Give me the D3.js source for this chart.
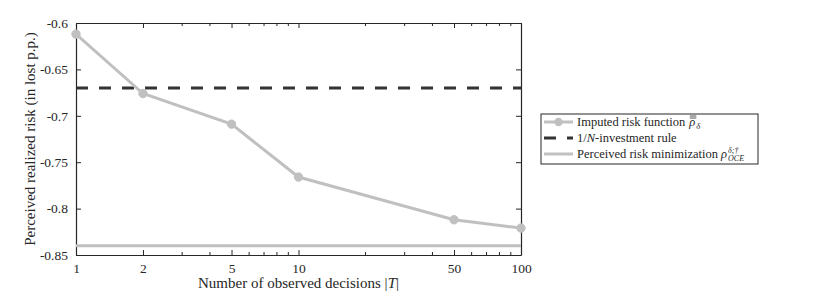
<!DOCTYPE html>
<html>
<head>
<meta charset="utf-8">
<script src="https://cdn.jsdelivr.net/npm/d3@7"></script>
<style>
  body { margin: 0; background: #fff; }
  text { font-family: "Liberation Serif", "DejaVu Serif", serif; fill: #262626; }
</style>
</head>
<body>
<script>
// data
const decisions = [1, 2, 5, 10, 50, 100];
const imputedRisk = [-0.612, -0.676, -0.709, -0.766, -0.812, -0.821];
const equalWeight = -0.670;      // 1/N-investment rule
const perceivedMin = -0.840;     // perceived risk minimization
const xTickValues = [1, 2, 5, 10, 50, 100];
const xMinorTicks = [3, 4, 6, 7, 8, 9, 20, 30, 40, 60, 70, 80, 90];
const yTickValues = [-0.85, -0.8, -0.75, -0.7, -0.65, -0.6];

const width = 830, height = 294;
const margin = { top: 23, right: 309, bottom: 39, left: 76 };
const w = width - margin.left - margin.right;
const h = height - margin.top - margin.bottom;

const gray = "#c0c0c0", dark = "#333333", axisCol = "#262626";

const svg = d3.select("body").append("svg")
    .attr("width", width)
    .attr("height", height);

const g = svg.append("g")
    .attr("transform", `translate(${margin.left},${margin.top})`);

const x = d3.scaleLog().domain([1, 100]).range([0, w]);
const y = d3.scaleLinear().domain([-0.85, -0.6]).range([h, 0]);

const fmtY = d => String(d).replace("−", "-");

// axes, ticks pointing inward like matlab
const xBottom = d3.axisBottom(x).tickValues(xTickValues).tickFormat(d3.format("d"))
    .tickSizeInner(-5).tickSizeOuter(0).tickPadding(8);
const xTop = d3.axisTop(x).tickValues(xTickValues).tickFormat("")
    .tickSizeInner(-5).tickSizeOuter(0);
const yLeft = d3.axisLeft(y).tickValues(yTickValues).tickFormat(fmtY)
    .tickSizeInner(-5).tickSizeOuter(0).tickPadding(8);
const yRight = d3.axisRight(y).tickValues(yTickValues).tickFormat("")
    .tickSizeInner(-5).tickSizeOuter(0);

const gxb = g.append("g").attr("transform", `translate(0,${h})`).call(xBottom);
const gxt = g.append("g").call(xTop);
const gyl = g.append("g").call(yLeft);
const gyr = g.append("g").attr("transform", `translate(${w},0)`).call(yRight);

[gxb, gxt, gyl, gyr].forEach(a => {
    a.select(".domain").attr("stroke", axisCol).attr("stroke-width", 1.2);
    a.selectAll(".tick line").attr("stroke", axisCol);
    a.selectAll(".tick text").style("font-size", "13.5px")
        .style("font-family", "'Liberation Serif', serif").attr("fill", axisCol);
});

// minor log ticks, bottom and top
g.append("g").selectAll("line.minb").data(xMinorTicks).enter().append("line")
    .attr("x1", d => x(d)).attr("x2", d => x(d))
    .attr("y1", h).attr("y2", h - 3)
    .attr("stroke", axisCol);
g.append("g").selectAll("line.mint").data(xMinorTicks).enter().append("line")
    .attr("x1", d => x(d)).attr("x2", d => x(d))
    .attr("y1", 0).attr("y2", 3)
    .attr("stroke", axisCol);

// horizontal reference lines
g.append("line")
    .attr("x1", 0).attr("x2", w)
    .attr("y1", y(perceivedMin)).attr("y2", y(perceivedMin))
    .attr("stroke", gray).attr("stroke-width", 3);

g.append("line")
    .attr("x1", 0).attr("x2", w)
    .attr("y1", y(equalWeight)).attr("y2", y(equalWeight))
    .attr("stroke", dark).attr("stroke-width", 3)
    .attr("stroke-dasharray", "12,11");

// imputed risk line + markers
const pts = decisions.map((d, i) => [d, imputedRisk[i]]);
g.append("path")
    .datum(pts)
    .attr("fill", "none")
    .attr("stroke", gray)
    .attr("stroke-width", 3)
    .attr("d", d3.line().x(d => x(d[0])).y(d => y(d[1])));

g.selectAll("circle.pt").data(pts).enter().append("circle")
    .attr("class", "pt")
    .attr("cx", d => x(d[0]))
    .attr("cy", d => y(d[1]))
    .attr("r", 4.2)
    .attr("fill", gray)
    .attr("stroke", gray);

// axis titles
svg.append("text")
    .attr("x", margin.left + w / 2)
    .attr("y", 288)
    .attr("text-anchor", "middle")
    .style("font-size", "15px")
    .html('Number of observed decisions |<tspan font-style="italic">T</tspan>|');

svg.append("text")
    .attr("transform", `translate(35,${margin.top + h / 2}) rotate(-90)`)
    .attr("text-anchor", "middle")
    .style("font-size", "15px")
    .text("Perceived realized risk (in lost p.p.)");

// legend
const lg = svg.append("g").attr("transform", "translate(541,114)");
lg.append("rect")
    .attr("width", 217).attr("height", 50)
    .attr("fill", "#fff").attr("stroke", axisCol).attr("stroke-width", 1);

const rowY = [8, 24, 40];
// row 1
lg.append("line").attr("x1", 3).attr("x2", 32).attr("y1", rowY[0]).attr("y2", rowY[0])
    .attr("stroke", gray).attr("stroke-width", 3);
lg.append("circle").attr("cx", 17.5).attr("cy", rowY[0]).attr("r", 4.2).attr("fill", gray);
// row 2
lg.append("line").attr("x1", 3).attr("x2", 32).attr("y1", rowY[1]).attr("y2", rowY[1])
    .attr("stroke", dark).attr("stroke-width", 3).attr("stroke-dasharray", "12,11");
// row 3
lg.append("line").attr("x1", 3).attr("x2", 32).attr("y1", rowY[2]).attr("y2", rowY[2])
    .attr("stroke", gray).attr("stroke-width", 3);

const lfs = "12.5px";
const t1 = lg.append("text").attr("x", 36).attr("y", rowY[0] + 4).style("font-size", lfs)
    .text("Imputed risk function");
const x1 = 36 + t1.node().getComputedTextLength() + 4;
lg.append("text").attr("x", x1).attr("y", rowY[0] + 4).style("font-size", lfs)
    .style("font-style", "italic").text("ρ");
// double overbar on rho
[-5, -3].forEach(dy => lg.append("line")
    .attr("x1", x1 + 0.5).attr("x2", x1 + 7)
    .attr("y1", rowY[0] + dy - 1).attr("y2", rowY[0] + dy - 1)
    .attr("stroke", axisCol).attr("stroke-width", 0.8));
lg.append("text").attr("x", x1 + 7).attr("y", rowY[0] + 7).style("font-size", "8.5px")
    .style("font-style", "italic").text("δ");

lg.append("text").attr("x", 36).attr("y", rowY[1] + 4).style("font-size", lfs)
    .html('1/<tspan font-style="italic">N</tspan>-investment rule');

const t3 = lg.append("text").attr("x", 36).attr("y", rowY[2] + 4).style("font-size", lfs)
    .html('Perceived risk minimization <tspan font-style="italic">ρ</tspan>');
const x3 = 36 + t3.node().getComputedTextLength() + 1;
lg.append("text").attr("x", x3).attr("y", rowY[2] - 1).style("font-size", "8px")
    .style("font-style", "italic").text("δ;†");
lg.append("text").attr("x", x3).attr("y", rowY[2] + 7).style("font-size", "8px")
    .style("font-style", "italic").text("OCE");
</script>
</body>
</html>
